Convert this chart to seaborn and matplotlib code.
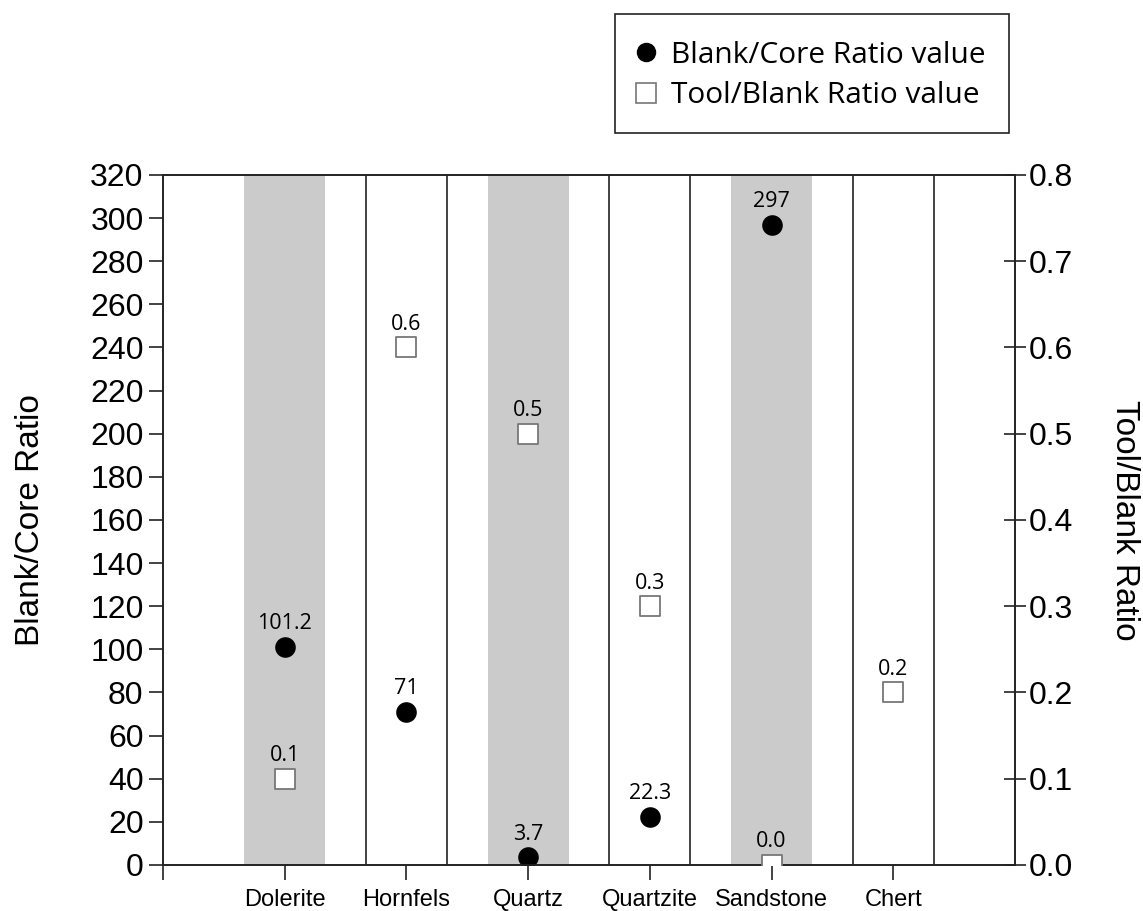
import matplotlib
matplotlib.use("Agg")
import matplotlib.pyplot as plt
import seaborn as sns
import pandas as pd
from matplotlib.lines import Line2D
from matplotlib.patches import Rectangle
from matplotlib.ticker import FormatStrFormatter

categories = ["Dolerite", "Hornfels", "Quartz", "Quartzite", "Sandstone", "Chert"]
blank_core = [101.2, 71, 3.7, 22.3, 297, None]
blank_core_labels = ["101.2", "71", "3.7", "22.3", "297", None]
tool_blank = [0.1, 0.6, 0.5, 0.3, 0.0, 0.2]
tool_blank_labels = ["0.1", "0.6", "0.5", "0.3", "0.0", "0.2"]
left_ticks = list(range(0, 321, 20))
right_ticks = [0.0, 0.1, 0.2, 0.3, 0.4, 0.5, 0.6, 0.7, 0.8]

sns.set_theme(style="white")
plt.rcParams["font.family"] = ["Liberation Sans", "DejaVu Sans"]
plt.rcParams.update({"text.color": "black", "axes.labelcolor": "black",
                     "xtick.color": "black", "ytick.color": "black"})

W, H = 1143, 911
fig = plt.figure(figsize=(W / 100, H / 100), dpi=100)
ax = fig.add_axes([0.1426, 0.0505, 0.7454, 0.7575])
ax2 = ax.twinx()

pos = list(range(len(categories)))
half = 1 / 3
for i in pos:
    if i % 2 == 0:
        ax.axvspan(i - half, i + half, color="#cbcbcb", lw=0, zorder=0)
    else:
        ax.axvline(i - half, color="#222222", lw=1.2, zorder=1)
        ax.axvline(i + half, color="#222222", lw=1.2, zorder=1)

df1 = pd.DataFrame({"x": pos, "y": blank_core}).dropna()
df2 = pd.DataFrame({"x": pos, "y": tool_blank})

sns.scatterplot(data=df1, x="x", y="y", ax=ax, marker="o", s=220, color="black",
                edgecolor="black", linewidth=0, zorder=5, legend=False)
sns.scatterplot(data=df2, x="x", y="y", ax=ax2, marker="s", s=210, facecolor="white",
                edgecolor="#777777", linewidth=1.3, zorder=5, legend=False)

lab_font = ["Open Sans", "DejaVu Sans"]
for x, y, t in zip(pos, blank_core, blank_core_labels):
    if y is None:
        continue
    ax.annotate(t, (x, y), xytext=(0, 9), textcoords="offset points", ha="center",
                va="bottom", fontsize=15.5, family=lab_font, color="black", zorder=6)
for x, y, t in zip(pos, tool_blank, tool_blank_labels):
    ax2.annotate(t, (x, y), xytext=(0, 9), textcoords="offset points", ha="center",
                 va="bottom", fontsize=15.5, family=lab_font, color="black", zorder=6)

ax.set_xlim(-1, 6)
ax.set_ylim(0, 320)
ax2.set_ylim(0, 0.8)
ax.set_xticks([-1] + pos)
ax.set_xticklabels([""] + categories, fontsize=17)
ax.set_yticks(left_ticks)
ax.tick_params(axis="y", labelsize=23, direction="out", length=10, width=1.2, color="#222222",
               labelcolor="black", left=True, pad=4)
ax.tick_params(axis="x", direction="out", length=11, width=1.2, color="#222222",
               labelcolor="black", bottom=True, pad=6)
ax2.set_yticks(right_ticks)
ax2.yaxis.set_major_formatter(FormatStrFormatter("%.1f"))
ax2.tick_params(axis="y", labelsize=23, direction="inout", length=16, width=1.2, color="#222222",
                labelcolor="black", right=True, pad=2)

ax.set_xlabel("")
ax.set_ylabel("Blank/Core Ratio", fontsize=24, labelpad=32, color="black")
ax2.set_ylabel("Tool/Blank Ratio", fontsize=24, rotation=270, labelpad=48, color="black")

for a in (ax, ax2):
    for s in a.spines.values():
        s.set_color("#222222")
        s.set_linewidth(1.2)

# legend box
fig.patches.append(Rectangle((615 / W, 1 - 133 / H), (1009 - 615) / W, (133 - 14) / H,
                             transform=fig.transFigure, facecolor="white",
                             edgecolor="#222222", linewidth=1.2, zorder=0))
handles = [
    Line2D([], [], marker="o", ls="", color="black", markersize=13),
    Line2D([], [], marker="s", ls="", markerfacecolor="white", markeredgecolor="#777777",
           markeredgewidth=1.2, markersize=14),
]
leg = fig.legend(handles, ["Blank/Core Ratio value", "Tool/Blank Ratio value"],
                 loc="center left", bbox_to_anchor=(633 / W, 1 - 75.5 / H),
                 frameon=False, prop={"family": lab_font, "size": 21.5},
                 handletextpad=0.38, handlelength=0.9, borderpad=0, labelspacing=0.4,
                 borderaxespad=0)
for t in leg.get_texts():
    t.set_color("black")

fig.savefig("out.png", dpi=100)
